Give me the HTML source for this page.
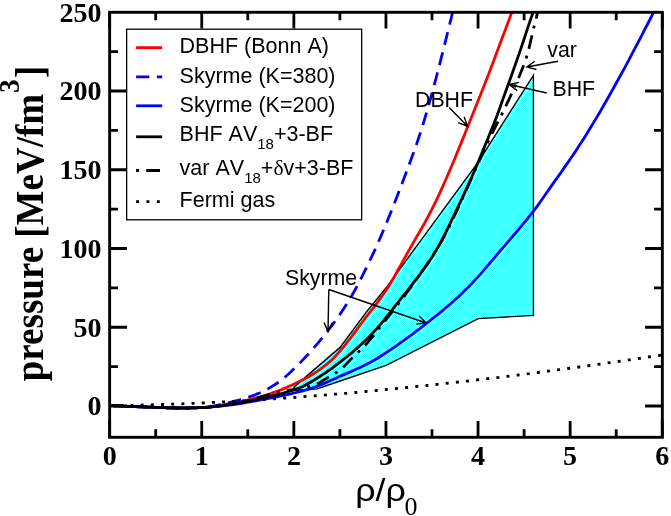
<!DOCTYPE html>
<html><head><meta charset="utf-8"><title>EOS pressure</title>
<style>
html,body{margin:0;padding:0;background:#fff;}
body{width:671px;height:516px;overflow:hidden;}
svg{display:block;will-change:transform;}
.ser{font-family:"Liberation Serif",serif;}
.san{font-family:"Liberation Sans",sans-serif;font-kerning:none;}
</style></head><body>
<svg width="671" height="516" viewBox="0 0 671 516">
<defs>
<pattern id="stip" width="2" height="2" patternUnits="userSpaceOnUse">
<rect width="2" height="2" fill="#c4ffff"/><rect width="1" height="1" fill="#38ffff"/><rect x="1" y="1" width="1" height="1" fill="#38ffff"/>
</pattern>
<clipPath id="plot"><rect x="109.65" y="12.3" width="552.7" height="425.0"/></clipPath>
</defs>
<rect width="671" height="516" fill="#fff"/>
<g clip-path="url(#plot)" fill="none" stroke-linejoin="round">
<path d="M294.1,386.9 L340.1,347.4 L365.9,312.6 L386.1,287.8 L478.2,162.2 L533.4,75.3 L533.4,315.4 L478.2,318.6 L386.1,365.4 L340.1,381.0 L317.1,388.9 L294.1,390.5 Z" fill="url(#stip)" stroke="#000" stroke-width="1.4" stroke-linejoin="miter"/>
<path d="M110.0,405.5 L112.6,405.6 L115.2,405.8 L117.8,405.9 L120.4,406.0 L123.0,406.1 L125.6,406.3 L128.2,406.4 L130.7,406.5 L133.3,406.6 L135.9,406.7 L138.5,406.8 L141.1,406.9 L143.7,407.0 L146.3,407.1 L148.9,407.1 L151.5,407.2 L154.1,407.3 L156.7,407.4 L159.3,407.5 L161.9,407.6 L164.5,407.7 L167.1,407.8 L169.7,407.8 L172.2,407.9 L174.8,407.9 L177.4,408.0 L180.0,408.0 L182.6,408.0 L185.2,408.0 L187.8,408.0 L190.4,407.9 L193.0,407.9 L195.6,407.8 L198.2,407.7 L200.8,407.6 L203.4,407.5 L206.0,407.3 L208.6,407.0 L211.2,406.7 L213.7,406.4 L216.3,406.0 L218.9,405.5 L221.5,405.1 L224.1,404.6 L226.7,404.1 L229.3,403.7 L231.9,403.2 L234.5,402.7 L237.1,402.2 L239.7,401.7 L242.3,401.2 L244.9,400.7 L247.5,400.1 L250.1,399.5 L252.6,398.9 L255.2,398.2 L257.8,397.6 L260.4,396.9 L263.0,396.1 L265.6,395.3 L268.2,394.5 L270.8,393.6 L273.4,392.6 L276.0,391.7 L278.6,390.7 L281.2,389.7 L283.8,388.6 L286.4,387.5 L289.0,386.3 L291.6,385.2 L294.1,384.0 L296.7,382.8 L299.3,381.6 L301.9,380.3 L304.5,379.0 L307.1,377.6 L309.7,376.1 L312.3,374.5 L314.9,372.8 L317.5,371.1 L320.1,369.3 L322.7,367.4 L325.3,365.4 L327.9,363.3 L330.5,361.1 L333.1,358.7 L335.6,356.0 L338.2,353.1 L340.8,350.2 L343.4,347.1 L346.0,343.9 L348.6,340.5 L351.2,337.1 L353.8,333.6 L356.4,330.1 L359.0,326.5 L361.6,323.0 L364.2,319.6 L366.8,316.2 L369.4,312.9 L372.0,309.6 L374.5,306.3 L377.1,302.9 L379.7,299.4 L382.3,295.8 L384.9,292.0 L387.5,288.1 L390.1,283.9 L392.7,279.5 L395.3,275.0 L397.9,270.3 L400.5,265.6 L403.1,260.9 L405.7,256.1 L408.3,251.5 L410.9,246.9 L413.5,242.4 L416.0,237.9 L418.6,233.5 L421.2,229.0 L423.8,224.5 L426.4,219.8 L429.0,214.9 L431.6,209.9 L434.2,204.7 L436.8,199.3 L439.4,193.8 L442.0,188.1 L444.6,182.3 L447.2,176.4 L449.8,170.4 L452.4,164.2 L455.0,158.1 L457.5,151.8 L460.1,145.5 L462.7,139.1 L465.3,132.7 L467.9,126.2 L470.5,119.7 L473.1,113.3 L475.7,106.8 L478.3,100.3 L480.9,93.8 L483.5,87.3 L486.1,80.6 L488.7,73.9 L491.3,67.1 L493.9,60.3 L496.4,53.5 L499.0,46.6 L501.6,39.6 L504.2,32.7 L506.8,25.8 L509.4,18.8 L512.0,11.9 L514.6,4.9 L517.2,-2.2 L519.8,-9.3 L522.4,-16.4" stroke="#ff0000" stroke-width="2.8"/>
<path d="M110.0,405.5 L112.2,405.6 L114.4,405.7 L116.6,405.8 L118.8,405.9 L121.0,406.0 L123.2,406.1 L125.4,406.2 L127.6,406.3 L129.8,406.4 L132.0,406.5 L134.2,406.6 L136.4,406.7 L138.6,406.8 L140.8,406.9 L143.0,407.0 L145.2,407.0 L147.4,407.1 L149.6,407.2 L151.8,407.2 L154.0,407.3 L156.2,407.4 L158.4,407.5 L160.6,407.6 L162.8,407.6 L165.0,407.7 L167.2,407.8 L169.4,407.8 L171.6,407.9 L173.8,407.9 L176.0,408.0 L178.2,408.0 L180.4,408.0 L182.6,408.0 L184.8,408.0 L187.0,408.0 L189.2,408.0 L191.4,407.9 L193.6,407.9 L195.8,407.8 L198.0,407.7 L200.2,407.6 L202.4,407.5 L204.6,407.4 L206.8,407.2 L209.0,406.9 L211.2,406.5 L213.4,406.1 L215.6,405.7 L217.8,405.2 L220.0,404.7 L222.2,404.1 L224.4,403.6 L226.6,403.1 L228.8,402.5 L231.0,402.0 L233.2,401.5 L235.4,400.9 L237.6,400.4 L239.8,399.8 L242.0,399.1 L244.2,398.5 L246.4,397.8 L248.6,397.1 L250.8,396.4 L253.0,395.6 L255.2,394.8 L257.4,393.9 L259.6,393.0 L261.8,392.1 L264.0,391.0 L266.2,389.9 L268.4,388.6 L270.6,387.3 L272.8,385.9 L275.0,384.5 L277.2,383.0 L279.4,381.5 L281.6,379.8 L283.8,378.1 L286.0,376.2 L288.2,374.2 L290.4,372.2 L292.6,370.1 L294.8,368.0 L297.0,365.8 L299.2,363.6 L301.4,361.4 L303.6,359.1 L305.8,356.7 L308.0,354.4 L310.2,351.9 L312.4,349.4 L314.6,346.9 L316.8,344.4 L319.0,341.8 L321.2,339.1 L323.4,336.4 L325.6,333.7 L327.8,330.9 L330.0,328.0 L332.2,325.1 L334.4,322.2 L336.6,319.1 L338.8,316.0 L341.0,312.8 L343.2,309.5 L345.4,306.1 L347.6,302.6 L349.8,299.0 L352.0,295.3 L354.2,291.4 L356.4,287.4 L358.6,283.2 L360.8,279.0 L363.0,274.7 L365.2,270.2 L367.4,265.7 L369.6,261.1 L371.8,256.5 L374.0,251.8 L376.2,246.9 L378.4,242.0 L380.6,236.9 L382.8,231.8 L385.0,226.6 L387.2,221.2 L389.4,215.8 L391.6,210.4 L393.8,204.8 L396.0,199.2 L398.2,193.5 L400.4,187.8 L402.6,182.0 L404.8,176.2 L407.0,170.4 L409.2,164.5 L411.4,158.6 L413.6,152.5 L415.8,146.3 L418.0,139.9 L420.2,133.2 L422.4,126.3 L424.6,119.1 L426.8,111.7 L429.0,104.0 L431.2,96.1 L433.4,88.0 L435.6,79.8 L437.8,71.4 L440.0,62.9 L442.2,54.2 L444.4,45.5 L446.6,36.7 L448.8,27.9 L451.0,19.0 L453.2,10.1 L455.4,1.0 L457.6,-8.4 L459.8,-17.9" stroke="#0000ff" stroke-width="2.8" stroke-dasharray="13.2 7.6" stroke-dashoffset="6"/>
<path d="M110.0,405.5 L113.5,405.7 L116.9,405.8 L120.4,406.0 L123.9,406.2 L127.4,406.3 L130.8,406.5 L134.3,406.6 L137.8,406.8 L141.3,406.9 L144.7,407.0 L148.2,407.1 L151.7,407.2 L155.2,407.4 L158.6,407.5 L162.1,407.6 L165.6,407.7 L169.1,407.8 L172.5,407.9 L176.0,408.0 L179.5,408.0 L182.9,408.0 L186.4,408.0 L189.9,408.0 L193.4,407.9 L196.8,407.8 L200.3,407.6 L203.8,407.5 L207.3,407.3 L210.7,407.0 L214.2,406.7 L217.7,406.4 L221.2,406.0 L224.6,405.6 L228.1,405.2 L231.6,404.8 L235.0,404.3 L238.5,403.8 L242.0,403.3 L245.5,402.7 L248.9,402.0 L252.4,401.4 L255.9,400.8 L259.4,400.1 L262.8,399.4 L266.3,398.8 L269.8,398.1 L273.3,397.5 L276.7,396.8 L280.2,396.1 L283.7,395.3 L287.2,394.6 L290.6,393.8 L294.1,393.0 L297.6,392.2 L301.0,391.3 L304.5,390.3 L308.0,389.4 L311.5,388.3 L314.9,387.1 L318.4,385.8 L321.9,384.4 L325.4,382.9 L328.8,381.3 L332.3,379.7 L335.8,378.2 L339.3,376.6 L342.7,375.1 L346.2,373.6 L349.7,372.1 L353.2,370.6 L356.6,369.0 L360.1,367.4 L363.6,365.8 L367.0,364.1 L370.5,362.3 L374.0,360.3 L377.5,358.2 L380.9,356.0 L384.4,353.8 L387.9,351.5 L391.4,349.2 L394.8,346.8 L398.3,344.4 L401.8,341.9 L405.3,339.4 L408.7,336.9 L412.2,334.3 L415.7,331.7 L419.1,329.1 L422.6,326.4 L426.1,323.7 L429.6,321.0 L433.0,318.2 L436.5,315.5 L440.0,312.6 L443.5,309.8 L446.9,306.8 L450.4,303.9 L453.9,300.8 L457.4,297.7 L460.8,294.4 L464.3,291.1 L467.8,287.7 L471.3,284.1 L474.7,280.4 L478.2,276.6 L481.7,272.6 L485.1,268.6 L488.6,264.5 L492.1,260.4 L495.6,256.3 L499.0,252.2 L502.5,248.1 L506.0,244.1 L509.5,240.1 L512.9,236.0 L516.4,232.0 L519.9,227.9 L523.4,223.7 L526.8,219.5 L530.3,215.2 L533.8,210.7 L537.3,206.1 L540.7,201.2 L544.2,196.3 L547.7,191.3 L551.1,186.4 L554.6,181.4 L558.1,176.5 L561.6,171.6 L565.0,166.6 L568.5,161.6 L572.0,156.5 L575.5,151.4 L578.9,146.1 L582.4,140.7 L585.9,135.2 L589.4,129.6 L592.8,123.9 L596.3,118.1 L599.8,112.2 L603.2,106.2 L606.7,100.2 L610.2,94.0 L613.7,87.8 L617.1,81.5 L620.6,75.2 L624.1,68.8 L627.6,62.3 L631.0,55.8 L634.5,49.2 L638.0,42.6 L641.5,35.9 L644.9,29.2 L648.4,22.5 L651.9,15.7 L655.4,9.0 L658.8,1.9 L662.3,-5.3" stroke="#0000ff" stroke-width="2.8"/>
<path d="M110.0,405.5 L112.7,405.6 L115.4,405.8 L118.2,405.9 L120.9,406.0 L123.6,406.2 L126.3,406.3 L129.0,406.4 L131.8,406.5 L134.5,406.6 L137.2,406.7 L139.9,406.8 L142.7,406.9 L145.4,407.0 L148.1,407.1 L150.8,407.2 L153.5,407.3 L156.3,407.4 L159.0,407.5 L161.7,407.6 L164.4,407.7 L167.1,407.8 L169.9,407.8 L172.6,407.9 L175.3,408.0 L178.0,408.0 L180.7,408.0 L183.5,408.0 L186.2,408.0 L188.9,408.0 L191.6,407.9 L194.4,407.8 L197.1,407.7 L199.8,407.6 L202.5,407.5 L205.2,407.4 L208.0,407.2 L210.7,407.0 L213.4,406.7 L216.1,406.4 L218.8,406.0 L221.6,405.7 L224.3,405.3 L227.0,404.9 L229.7,404.5 L232.4,404.1 L235.2,403.7 L237.9,403.2 L240.6,402.8 L243.3,402.2 L246.0,401.7 L248.8,401.1 L251.5,400.6 L254.2,400.0 L256.9,399.4 L259.7,398.8 L262.4,398.2 L265.1,397.6 L267.8,396.9 L270.5,396.3 L273.3,395.6 L276.0,394.9 L278.7,394.2 L281.4,393.5 L284.1,392.8 L286.9,392.0 L289.6,391.2 L292.3,390.4 L295.0,389.5 L297.7,388.6 L300.5,387.5 L303.2,386.2 L305.9,384.8 L308.6,383.3 L311.4,381.7 L314.1,380.1 L316.8,378.4 L319.5,376.7 L322.2,374.9 L325.0,373.1 L327.7,371.2 L330.4,369.3 L333.1,367.3 L335.8,365.3 L338.6,363.2 L341.3,361.2 L344.0,359.0 L346.7,356.9 L349.4,354.6 L352.2,352.4 L354.9,350.0 L357.6,347.6 L360.3,345.2 L363.1,342.6 L365.8,340.0 L368.5,337.4 L371.2,334.6 L373.9,331.7 L376.7,328.7 L379.4,325.6 L382.1,322.4 L384.8,319.1 L387.5,315.7 L390.3,312.3 L393.0,308.9 L395.7,305.4 L398.4,301.9 L401.1,298.4 L403.9,295.0 L406.6,291.6 L409.3,288.1 L412.0,284.7 L414.7,281.2 L417.5,277.7 L420.2,274.0 L422.9,270.3 L425.6,266.5 L428.4,262.6 L431.1,258.5 L433.8,254.3 L436.5,249.8 L439.2,245.1 L442.0,240.0 L444.7,234.6 L447.4,229.1 L450.1,223.4 L452.8,217.6 L455.6,212.0 L458.3,206.3 L461.0,200.6 L463.7,194.8 L466.4,188.9 L469.2,182.9 L471.9,176.8 L474.6,170.5 L477.3,164.1 L480.1,157.5 L482.8,150.9 L485.5,144.2 L488.2,137.7 L490.9,131.1 L493.7,124.3 L496.4,117.2 L499.1,109.9 L501.8,102.3 L504.5,94.7 L507.3,87.1 L510.0,79.6 L512.7,72.0 L515.4,64.4 L518.1,56.6 L520.9,48.6 L523.6,40.5 L526.3,32.3 L529.0,24.1 L531.8,15.9 L534.5,7.8 L537.2,-0.2 L539.9,-8.3 L542.6,-16.4" stroke="#000" stroke-width="2.8"/>
<path d="M110.0,405.5 L112.7,405.6 L115.5,405.8 L118.2,405.9 L120.9,406.0 L123.7,406.2 L126.4,406.3 L129.1,406.4 L131.9,406.5 L134.6,406.6 L137.3,406.7 L140.1,406.8 L142.8,406.9 L145.5,407.0 L148.3,407.1 L151.0,407.2 L153.7,407.3 L156.5,407.4 L159.2,407.5 L161.9,407.6 L164.7,407.7 L167.4,407.8 L170.1,407.8 L172.8,407.9 L175.6,408.0 L178.3,408.0 L181.0,408.0 L183.8,408.0 L186.5,408.0 L189.2,408.0 L192.0,407.9 L194.7,407.8 L197.4,407.7 L200.2,407.6 L202.9,407.5 L205.6,407.4 L208.4,407.1 L211.1,406.9 L213.8,406.6 L216.6,406.2 L219.3,405.8 L222.0,405.4 L224.8,405.0 L227.5,404.6 L230.2,404.1 L233.0,403.7 L235.7,403.2 L238.4,402.6 L241.2,402.0 L243.9,401.4 L246.6,400.7 L249.4,400.1 L252.1,399.4 L254.8,398.7 L257.6,397.9 L260.3,397.2 L263.0,396.4 L265.8,395.5 L268.5,394.6 L271.2,393.8 L274.0,393.0 L276.7,392.3 L279.4,391.8 L282.2,391.3 L284.9,390.8 L287.6,390.4 L290.3,390.0 L293.1,389.6 L295.8,389.1 L298.5,388.6 L301.3,388.1 L304.0,387.6 L306.7,387.0 L309.5,386.4 L312.2,385.6 L314.9,384.8 L317.7,383.6 L320.4,382.1 L323.1,380.4 L325.9,378.7 L328.6,377.1 L331.3,375.5 L334.1,374.0 L336.8,372.3 L339.5,370.4 L342.3,368.1 L345.0,365.4 L347.7,362.5 L350.5,359.6 L353.2,356.9 L355.9,354.4 L358.7,351.8 L361.4,349.2 L364.1,346.4 L366.9,343.4 L369.6,340.2 L372.3,337.0 L375.1,333.6 L377.8,330.1 L380.5,326.6 L383.3,323.1 L386.0,319.6 L388.7,316.2 L391.5,312.7 L394.2,309.2 L396.9,305.6 L399.7,302.1 L402.4,298.5 L405.1,294.9 L407.8,291.2 L410.6,287.5 L413.3,283.7 L416.0,279.8 L418.8,276.0 L421.5,272.1 L424.2,268.2 L427.0,264.3 L429.7,260.2 L432.4,256.0 L435.2,251.7 L437.9,247.3 L440.6,242.6 L443.4,237.8 L446.1,232.7 L448.8,227.3 L451.6,221.7 L454.3,216.0 L457.0,210.1 L459.8,204.2 L462.5,198.1 L465.2,192.0 L468.0,186.0 L470.7,179.9 L473.4,174.0 L476.2,167.9 L478.9,161.7 L481.6,155.6 L484.4,149.7 L487.1,143.8 L489.8,138.1 L492.6,132.4 L495.3,126.9 L498.0,121.7 L500.8,116.4 L503.5,110.9 L506.2,105.2 L509.0,99.3 L511.7,93.4 L514.4,87.3 L517.2,81.1 L519.9,74.7 L522.6,68.0 L525.3,61.0 L528.1,51.9 L530.8,40.5 L533.5,28.7 L536.3,17.8 L539.0,6.6 L541.7,-4.7 L544.5,-16.4" stroke="#000" stroke-width="2.8" stroke-dasharray="3 7.1 13.8 7.1" stroke-dashoffset="17.4"/>
<path d="M110.0,405.5 L112.8,405.5 L115.6,405.5 L118.3,405.5 L121.1,405.4 L123.9,405.4 L126.7,405.4 L129.4,405.3 L132.2,405.3 L135.0,405.2 L137.8,405.2 L140.5,405.1 L143.3,405.0 L146.1,405.0 L148.9,404.9 L151.6,404.8 L154.4,404.7 L157.2,404.7 L160.0,404.6 L162.7,404.5 L165.5,404.4 L168.3,404.3 L171.1,404.2 L173.8,404.1 L176.6,404.0 L179.4,403.9 L182.2,403.8 L184.9,403.7 L187.7,403.6 L190.5,403.5 L193.3,403.3 L196.0,403.2 L198.8,403.1 L201.6,403.0 L204.4,402.8 L207.1,402.7 L209.9,402.6 L212.7,402.4 L215.5,402.3 L218.2,402.2 L221.0,402.0 L223.8,401.9 L226.6,401.7 L229.3,401.6 L232.1,401.4 L234.9,401.3 L237.7,401.1 L240.4,400.9 L243.2,400.8 L246.0,400.6 L248.8,400.4 L251.5,400.3 L254.3,400.1 L257.1,399.9 L259.9,399.8 L262.6,399.6 L265.4,399.4 L268.2,399.2 L271.0,399.0 L273.7,398.8 L276.5,398.6 L279.3,398.5 L282.1,398.3 L284.8,398.1 L287.6,397.9 L290.4,397.7 L293.2,397.5 L296.0,397.3 L298.7,397.1 L301.5,396.8 L304.3,396.6 L307.1,396.4 L309.8,396.2 L312.6,396.0 L315.4,395.8 L318.2,395.6 L320.9,395.3 L323.7,395.1 L326.5,394.9 L329.3,394.7 L332.0,394.4 L334.8,394.2 L337.6,394.0 L340.4,393.7 L343.1,393.5 L345.9,393.3 L348.7,393.0 L351.5,392.8 L354.2,392.5 L357.0,392.3 L359.8,392.0 L362.6,391.8 L365.3,391.5 L368.1,391.3 L370.9,391.0 L373.7,390.8 L376.4,390.5 L379.2,390.2 L382.0,390.0 L384.8,389.7 L387.5,389.4 L390.3,389.2 L393.1,388.9 L395.9,388.6 L398.6,388.4 L401.4,388.1 L404.2,387.8 L407.0,387.5 L409.7,387.2 L412.5,387.0 L415.3,386.7 L418.1,386.4 L420.8,386.1 L423.6,385.8 L426.4,385.5 L429.2,385.2 L431.9,384.9 L434.7,384.6 L437.5,384.3 L440.3,384.0 L443.0,383.7 L445.8,383.4 L448.6,383.1 L451.4,382.8 L454.1,382.5 L456.9,382.2 L459.7,381.9 L462.5,381.6 L465.2,381.3 L468.0,381.0 L470.8,380.6 L473.6,380.3 L476.3,380.0 L479.1,379.7 L481.9,379.3 L484.7,379.0 L487.5,378.7 L490.2,378.4 L493.0,378.0 L495.8,377.7 L498.6,377.4 L501.3,377.0 L504.1,376.7 L506.9,376.4 L509.7,376.0 L512.4,375.7 L515.2,375.3 L518.0,375.0 L520.8,374.6 L523.5,374.3 L526.3,373.9 L529.1,373.6 L531.9,373.2 L534.6,372.9 L537.4,372.5 L540.2,372.2 L543.0,371.8 L545.7,371.4 L548.5,371.1 L551.3,370.7 L554.1,370.4 L556.8,370.0 L559.6,369.6 L562.4,369.3 L565.2,368.9 L567.9,368.5 L570.7,368.1 L573.5,367.8 L576.3,367.4 L579.0,367.0 L581.8,366.6 L584.6,366.2 L587.4,365.9 L590.1,365.5 L592.9,365.1 L595.7,364.7 L598.5,364.3 L601.2,363.9 L604.0,363.5 L606.8,363.1 L609.6,362.7 L612.3,362.3 L615.1,361.9 L617.9,361.5 L620.7,361.1 L623.4,360.7 L626.2,360.3 L629.0,359.9 L631.8,359.5 L634.5,359.1 L637.3,358.7 L640.1,358.3 L642.9,357.9 L645.6,357.5 L648.4,357.0 L651.2,356.6 L654.0,356.2 L656.7,355.8 L659.5,355.4 L662.3,354.9" stroke="#000" stroke-width="2.8" stroke-dasharray="3 7.2"/>
</g>
<path d="M328.8,289.5 L328.0,331.5 M324.0,322.4 L328.0,331.5 L332.4,322.6 M328.8,289.5 L426.2,323.0 M416.4,324.0 L426.2,323.0 L419.1,316.1 M449.2,107.5 L467.5,126.2 M458.2,122.7 L467.5,126.2 L464.2,116.9 M558.0,61.2 L526.8,67.0 M534.8,61.2 L526.8,67.0 L536.4,69.5 M546.8,93.0 L509.2,84.5 M519.0,82.4 L509.2,84.5 L517.1,90.6" fill="none" stroke="#000" stroke-width="1.4"/>
<g class="san" font-size="21.3" fill="#000">
<text x="285" y="285.2">Skyrme</text>
<text x="415" y="106.5">DBHF</text>
<text x="547.3" y="56.8">var</text>
<text x="552.5" y="95.5">BHF</text>
</g>
<!-- legend -->
<rect x="126.65" y="29.2" width="235" height="190.6" fill="#fff" stroke="#000" stroke-width="1.3"/>
<g fill="none" stroke-width="2.8">
<path d="M136.1,47.65 H162.2" stroke="#ff0000"/>
<path d="M136.1,76.9 H162.2" stroke="#0000ff" stroke-dasharray="13.2 7.6"/>
<path d="M136.1,105.8 H162.2" stroke="#0000ff"/>
<path d="M136.1,136.8 H162.2" stroke="#000"/>
<path d="M136.1,170.5 H160.2" stroke="#000" stroke-dasharray="3 7.1 13.8 7.1"/>
<path d="M136.1,201.7 H160.2" stroke="#000" stroke-dasharray="3 7.35"/>
</g>
<g class="san" font-size="21.5" fill="#000">
<text x="179.6" y="52.6">DBHF (Bonn A)</text>
<text x="179.6" y="82.5">Skyrme (K=380)</text>
<text x="179.6" y="112">Skyrme (K=200)</text>
<text x="179.6" y="140.8">BHF AV<tspan font-size="15" dy="8">18</tspan><tspan dy="-8">+3-BF</tspan></text>
<text x="179.6" y="174.5">var AV<tspan font-size="15" dy="8">18</tspan><tspan dy="-8">+</tspan><tspan class="ser">δ</tspan>v+3-BF</text>
<text x="179.6" y="207.4">Fermi gas</text>
</g>
<!-- frame + ticks -->
<rect x="109.65" y="12.3" width="552.7" height="425.0" fill="none" stroke="#000" stroke-width="2.9"/>
<path d="M109.65,437.3 v-16.3 M109.65,12.3 v16.3 M155.70,437.3 v-8.0 M155.70,12.3 v8.0 M201.75,437.3 v-16.3 M201.75,12.3 v16.3 M247.80,437.3 v-8.0 M247.80,12.3 v8.0 M293.85,437.3 v-16.3 M293.85,12.3 v16.3 M339.90,437.3 v-8.0 M339.90,12.3 v8.0 M385.95,437.3 v-16.3 M385.95,12.3 v16.3 M432.00,437.3 v-8.0 M432.00,12.3 v8.0 M478.05,437.3 v-16.3 M478.05,12.3 v16.3 M524.10,437.3 v-8.0 M524.10,12.3 v8.0 M570.15,437.3 v-16.3 M570.15,12.3 v16.3 M616.20,437.3 v-8.0 M616.20,12.3 v8.0 M662.25,437.3 v-16.3 M662.25,12.3 v16.3 M109.7,406.00 h17.3 M662.4,406.00 h-17.3 M109.7,366.62 h8.3 M662.4,366.62 h-8.3 M109.7,327.25 h17.3 M662.4,327.25 h-17.3 M109.7,287.88 h8.3 M662.4,287.88 h-8.3 M109.7,248.50 h17.3 M662.4,248.50 h-17.3 M109.7,209.12 h8.3 M662.4,209.12 h-8.3 M109.7,169.75 h17.3 M662.4,169.75 h-17.3 M109.7,130.38 h8.3 M662.4,130.38 h-8.3 M109.7,91.00 h17.3 M662.4,91.00 h-17.3 M109.7,51.62 h8.3 M662.4,51.62 h-8.3" fill="none" stroke="#000" stroke-width="2.8"/>
<g class="ser" font-size="28" font-weight="bold" fill="#000" text-anchor="middle"><text x="109.7" y="465">0</text><text x="201.8" y="465">1</text><text x="293.9" y="465">2</text><text x="385.9" y="465">3</text><text x="478.0" y="465">4</text><text x="570.1" y="465">5</text><text x="662.2" y="465">6</text></g>
<g class="ser" font-size="28" font-weight="bold" fill="#000" text-anchor="end"><text x="101.5" y="415.3">0</text><text x="101.5" y="336.6">50</text><text x="101.5" y="257.8">100</text><text x="101.5" y="179.1">150</text><text x="101.5" y="100.3">200</text><text x="101.5" y="21.6">250</text></g>
<text class="ser" font-size="37" font-weight="bold" fill="#000" transform="translate(42.6,381.2) rotate(-90) scale(1,1.055)">pressure [MeV/fm<tspan font-size="27.5" dx="1" dy="-22">3</tspan><tspan dx="1.2" dy="22">]</tspan></text>
<text class="san" font-size="31" fill="#000" transform="translate(355.2,500.8) scale(1.155,1)">ρ/ρ</text>
<text class="ser" font-size="26" fill="#000" x="404.6" y="515">0</text>
</svg>
</body></html>
